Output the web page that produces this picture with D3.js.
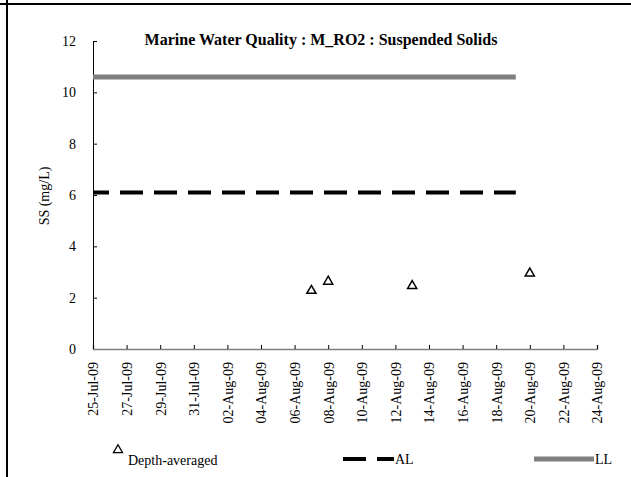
<!DOCTYPE html>
<html><head><meta charset="utf-8">
<script src="https://cdn.jsdelivr.net/npm/d3@7"></script>
<style>body{margin:0;background:#fff}svg{display:block}</style>
</head><body><svg id="c" width="631" height="477"></svg>
<script>
const title = "Marine Water Quality : M_RO2 : Suspended Solids";
const yLabel = "SS (mg/L)";
const pointDates = ["2009-08-07", "2009-08-08", "2009-08-13", "2009-08-20"];
const pointValues = [2.27, 2.63, 2.46, 2.95];
const limitDates = ["2009-07-25", "2009-08-19T04:00"];
const alValue = 6.1;
const llValue = 10.6;
const yTicks = [0, 2, 4, 6, 8, 10, 12];
const xTickDates = ["2009-07-25","2009-07-27","2009-07-29","2009-07-31","2009-08-02","2009-08-04","2009-08-06","2009-08-08","2009-08-10","2009-08-12","2009-08-14","2009-08-16","2009-08-18","2009-08-20","2009-08-22","2009-08-24"];
const legendLabels = ["Depth-averaged", "AL", "LL"];

const FONT = "Liberation Serif";
const parse = s => new Date(s.length > 10 ? s : s + "T00:00");
const svg = d3.select("#c");
const x = d3.scaleTime().domain([parse("2009-07-25"), parse("2009-08-24")]).range([93, 597]);
const y = d3.scaleLinear().domain([0, 12]).range([349, 41]);
const fmt = d3.timeFormat("%d-%b-%y");

// frame
svg.append("line").attr("x1",0).attr("x2",631).attr("y1",4).attr("y2",4).attr("stroke","#000").attr("stroke-width",2);
svg.append("line").attr("x1",7).attr("x2",7).attr("y1",0).attr("y2",477).attr("stroke","#000").attr("stroke-width",2);

// y axis
const ya = svg.append("g").attr("transform","translate(93,0)")
  .call(d3.axisRight(y).tickValues(yTicks).tickSize(4).tickFormat(d3.format("d")));
ya.select(".domain").attr("stroke","#000");
ya.selectAll("text").attr("x",-17).attr("text-anchor","end").attr("fill","#000")
  .style("font-family", FONT).style("font-size","14px");

// x axis
const xa = svg.append("g").attr("transform","translate(0,349)")
  .call(d3.axisTop(x).tickValues(xTickDates.map(parse)).tickSize(4).tickFormat(fmt));
xa.select(".domain").attr("stroke","#808080").attr("stroke-width",1.5);
xa.selectAll("text").attr("transform","rotate(-90)").attr("x",-13).attr("y",0).attr("dy","0.35em")
  .attr("text-anchor","end").attr("fill","#000").style("font-family", FONT).style("font-size","14px");

// limit lines
const line = d3.line().x(d => x(parse(d[0]))).y(d => y(d[1]));
svg.append("path").attr("d", line(limitDates.map(d => [d, llValue]))).attr("stroke","#808080").attr("stroke-width",5).attr("fill","none");
svg.append("path").attr("d", line(limitDates.map(d => [d, alValue]))).attr("stroke","#000").attr("stroke-width",4)
  .attr("stroke-dasharray","23,11").attr("stroke-dashoffset",7).attr("fill","none");

// points
const tri = d3.symbol().type(d3.symbolTriangle).size(36);
svg.selectAll(".pt").data(pointDates.map((d,i)=>[d,pointValues[i]])).join("path")
  .attr("d", tri).attr("transform", d => `translate(${x(parse(d[0]))},${y(d[1])})`)
  .attr("fill","none").attr("stroke","#000").attr("stroke-width",1.5);

// title & y label
svg.append("text").attr("x",321).attr("y",45).attr("text-anchor","middle").style("font-family",FONT).style("font-size","16px").style("font-weight","bold").text(title);
svg.append("text").attr("transform","translate(49,196) rotate(-90)").attr("text-anchor","middle").style("font-family",FONT).style("font-size","14px").text(yLabel);

// legend
svg.append("path").attr("d", tri).attr("transform","translate(118,450)").attr("fill","none").attr("stroke","#000").attr("stroke-width",1.3);
svg.append("text").attr("x",128).attr("y",465).style("font-family",FONT).style("font-size","14px").text(legendLabels[0]);
svg.append("line").attr("x1",343).attr("x2",394).attr("y1",459).attr("y2",459).attr("stroke","#000").attr("stroke-width",4).attr("stroke-dasharray","23,11");
svg.append("text").attr("x",395).attr("y",464).style("font-family",FONT).style("font-size","14px").text(legendLabels[1]);
svg.append("line").attr("x1",534).attr("x2",594).attr("y1",459).attr("y2",459).attr("stroke","#808080").attr("stroke-width",5);
svg.append("text").attr("x",595).attr("y",464).style("font-family",FONT).style("font-size","14px").text(legendLabels[2]);
</script></body></html>
